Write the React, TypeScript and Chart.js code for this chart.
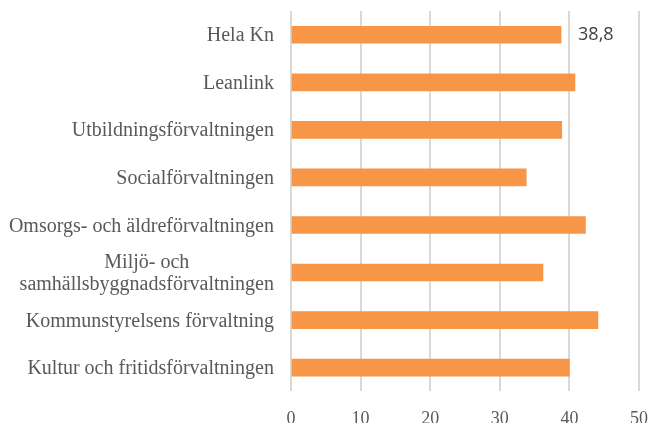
import React, { useEffect, useRef } from "react";
import { Chart, registerables } from "chart.js";

Chart.register(...registerables);

const categories = [
  "Hela Kn",
  "Leanlink",
  "Utbildningsförvaltningen",
  "Socialförvaltningen",
  "Omsorgs- och äldreförvaltningen",
  "Miljö- och\nsamhällsbyggnadsförvaltningen",
  "Kommunstyrelsens förvaltning",
  "Kultur och fritidsförvaltningen",
];

const values = [38.8, 40.8, 38.9, 33.8, 42.3, 36.2, 44.1, 40.0];

const labeledIndices = [0];

const xTicks = [0, 10, 20, 30, 40, 50];

const SERIF = "'Liberation Serif', 'Times New Roman', serif";
const SANS = "'Open Sans', 'Liberation Sans', sans-serif";

const yLabelPlugin = {
  id: "yLabelPlugin",
  afterDraw(chart: any) {
    const ctx = chart.ctx;
    const yScale = chart.scales.y;
    const area = chart.chartArea;
    const right = area.left - 17;
    const fontSize = 20;
    const lineGap = 22;
    ctx.save();
    ctx.font = `${fontSize}px ${SERIF}`;
    ctx.fillStyle = "#595959";
    ctx.textAlign = "center";
    ctx.textBaseline = "alphabetic";
    categories.forEach((cat, i) => {
      const lines = cat.split("\n");
      const widths = lines.map((l) => ctx.measureText(l).width);
      const maxW = Math.max(...widths);
      const cx = right - maxW / 2;
      const cy = yScale.getPixelForValue(i);
      const startY = cy - ((lines.length - 1) * lineGap) / 2 + fontSize * 0.33;
      lines.forEach((l, j) => {
        ctx.fillText(l, cx, startY + j * lineGap);
      });
    });
    ctx.restore();
  },
};

const valueLabelPlugin = {
  id: "valueLabelPlugin",
  afterDatasetsDraw(chart: any) {
    const ctx = chart.ctx;
    const meta = chart.getDatasetMeta(0);
    ctx.save();
    ctx.font = `18px ${SANS}`;
    ctx.fillStyle = "#404040";
    ctx.textAlign = "left";
    ctx.textBaseline = "middle";
    labeledIndices.forEach((i) => {
      const bar = meta.data[i];
      const text = values[i].toFixed(1).replace(".", ",");
      ctx.fillText(text, bar.x + 17, bar.y);
    });
    ctx.restore();
  },
};

export default function App() {
  const canvasRef = useRef<HTMLCanvasElement | null>(null);

  useEffect(() => {
    if (!canvasRef.current) return;
    const chart = new Chart(canvasRef.current, {
      type: "bar",
      data: {
        labels: categories,
        datasets: [
          {
            data: values,
            backgroundColor: "#F79646",
            borderWidth: 0,
            barThickness: 17,
          },
        ],
      },
      options: {
        indexAxis: "y",
        animation: false,
        responsive: true,
        maintainAspectRatio: false,
        layout: { padding: { left: 291, right: 10, top: 11, bottom: 0 } },
        plugins: {
          legend: { display: false },
          tooltip: { enabled: false },
        },
        scales: {
          y: {
            display: false,
          },
          x: {
            min: 0,
            max: 50,
            afterBuildTicks(scale: any) {
              scale.ticks = xTicks.map((v) => ({ value: v }));
            },
            afterFit(scale: any) {
              scale.paddingRight = 0;
              scale.paddingLeft = 0;
            },
            grid: {
              color: "#D9D9D9",
              lineWidth: 2,
              drawTicks: false,
            },
            border: { display: false },
            ticks: {
              padding: 17,
              color: "#595959",
              font: { family: SERIF, size: 18 },
            },
          },
        },
      },
      plugins: [yLabelPlugin, valueLabelPlugin],
    });
    return () => chart.destroy();
  }, []);

  return (
    <div
      style={{
        position: "fixed",
        left: 0,
        top: 0,
        width: 649,
        height: 447,
        background: "#fff",
      }}
    >
      <canvas ref={canvasRef} />
    </div>
  );
}
